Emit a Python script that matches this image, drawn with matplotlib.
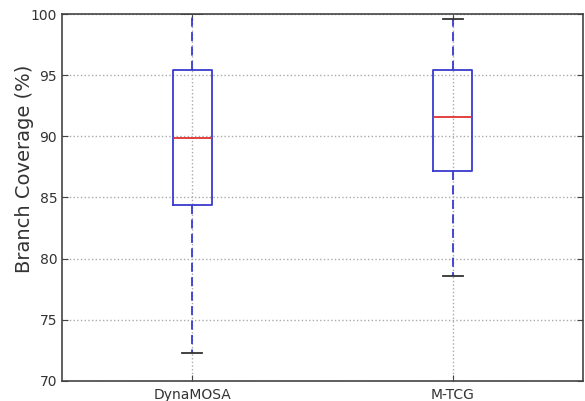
import matplotlib
matplotlib.use("Agg")
import matplotlib.pyplot as plt

# box statistics
labels = ["DynaMOSA", "M-TCG"]
whislo = [72.3, 78.6]
q1 = [84.4, 87.2]
med = [89.9, 91.6]
q3 = [95.4, 95.4]
whishi = [100.0, 99.6]

stats = []
for i in range(len(labels)):
    stats.append(dict(label=labels[i], whislo=whislo[i], q1=q1[i], med=med[i],
                      q3=q3[i], whishi=whishi[i], fliers=[]))

fig = plt.figure(figsize=(5.85, 4.01), dpi=100)
ax = fig.add_axes([0.106, 0.05, 0.8906, 0.915])

ax.bxp(stats, positions=[1, 2], widths=0.15, showfliers=False,
       boxprops=dict(color="#3a3acd", linewidth=1.3),
       whiskerprops=dict(color="#3a3acd", linestyle=(0, (5, 3)), linewidth=1.3),
       capprops=dict(color="#333333", linewidth=1.3),
       medianprops=dict(color="#e03030", linewidth=1.3))

ax.set_xlim(0.5, 2.5)
ax.set_ylim(70, 100)
ax.set_yticks([70, 75, 80, 85, 90, 95, 100])
ax.grid(True, linestyle=":", color="#aaaaaa", linewidth=1.0)
ax.set_axisbelow(True)

for s in ax.spines.values():
    s.set_color("#444444")
    s.set_linewidth(1.2)

ax.tick_params(direction="in", length=4, colors="#444444", labelcolor="#333333",
               labelsize=10, top=True, right=True)
ax.tick_params(axis="x", pad=5)
ax.set_ylabel("Branch Coverage (%)", fontsize=14, color="#333333")
ax.yaxis.set_label_coords(-0.054, 0.579)

fig.savefig("out.png", dpi=100)
